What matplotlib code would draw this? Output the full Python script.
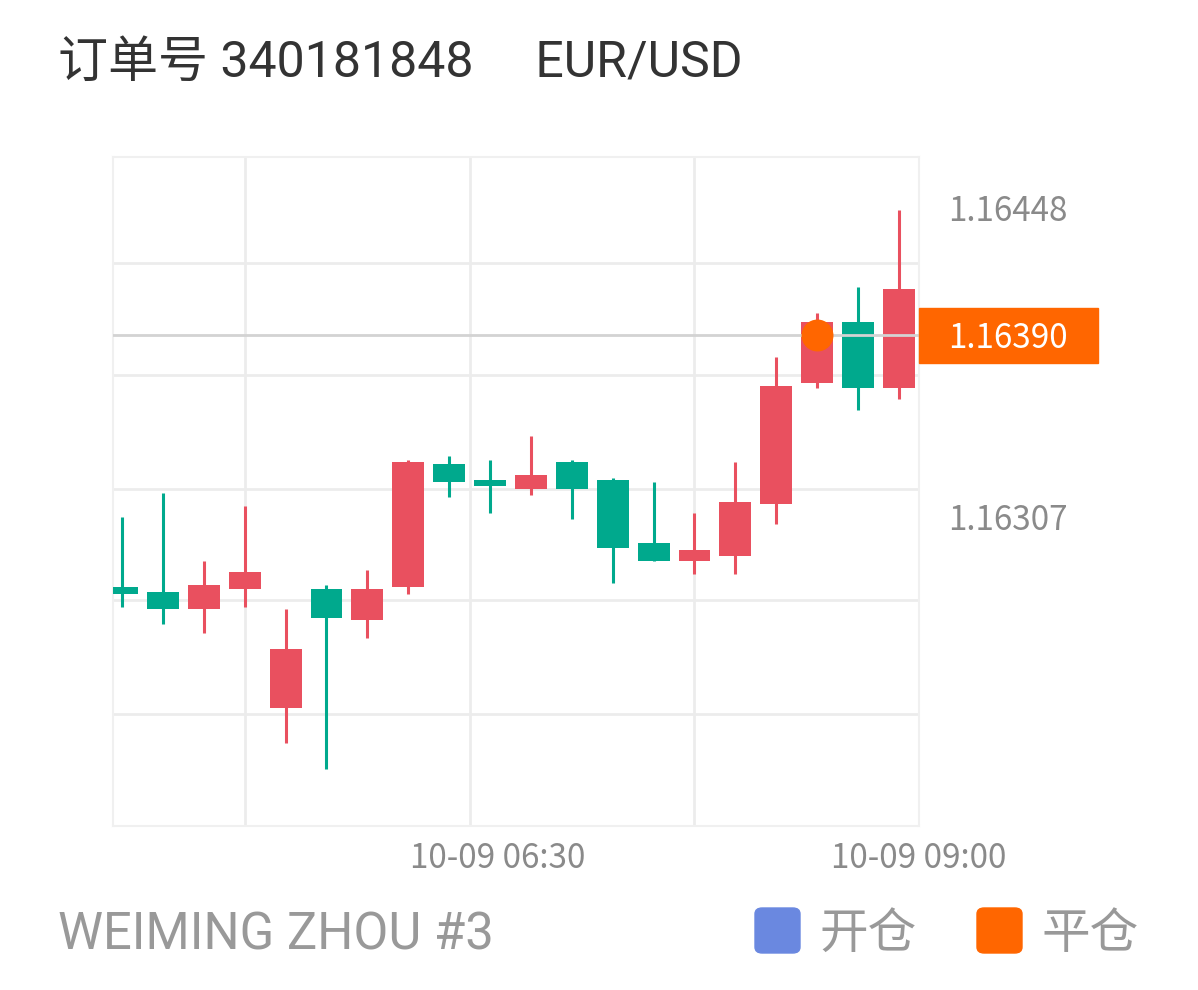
import numpy as np
import matplotlib.pyplot as plt
import matplotlib.transforms as mtransforms
from matplotlib.patches import Rectangle, FancyBboxPatch

# candle data, one entry per bar
opens  = [1.16275, 1.16273, 1.16265, 1.16274, 1.16220, 1.16274, 1.16260, 1.16275, 1.16331, 1.16324,
          1.16320, 1.16332, 1.16324, 1.16295, 1.16287, 1.16289, 1.16313, 1.16368, 1.16396, 1.16366]
highs  = [1.16307, 1.16318, 1.16287, 1.16312, 1.16265, 1.16276, 1.16283, 1.16333, 1.16335, 1.16333,
          1.16344, 1.16333, 1.16325, 1.16323, 1.16309, 1.16332, 1.16380, 1.16400, 1.16412, 1.16447]
lows   = [1.16266, 1.16258, 1.16254, 1.16266, 1.16204, 1.16192, 1.16252, 1.16272, 1.16316, 1.16309,
          1.16317, 1.16306, 1.16277, 1.16287, 1.16281, 1.16281, 1.16304, 1.16366, 1.16356, 1.16361]
closes = [1.16272, 1.16265, 1.16276, 1.16282, 1.16247, 1.16261, 1.16274, 1.16332, 1.16323, 1.16321,
          1.16326, 1.16320, 1.16293, 1.16287, 1.16292, 1.16314, 1.16367, 1.16396, 1.16366, 1.16411]

priceLabels = [1.16448, 1.16307]
closePrice = 1.16390
closeIndex = 17

xtickPos = [9.19, 19.49]
xtickLabels = ["10-09 06:30", "10-09 09:00"]
vgrid = [3, 8.5, 14]
hgrid = [1.16217, 1.16269, 1.16320, 1.16372, 1.16423]

upColor = '#E9505F'
downColor = '#00A98D'
gridColor = '#ececec'

latin = ['Roboto', 'Noto Sans CJK SC']
cjk = ['Noto Sans CJK SC', 'DejaVu Sans']

fig = plt.figure(figsize=(11.98, 9.9), dpi=100)
ax = fig.add_axes([113/1198, 1-826/990, 806/1198, 669/990])

x = np.arange(len(opens))
o = np.array(opens)
c = np.array(closes)
colors = [upColor if cc >= oo else downColor for oo, cc in zip(o, c)]

for g in hgrid:
	ax.axhline(g, color=gridColor, lw=2, zorder=0)
for g in vgrid:
	ax.axvline(g, color=gridColor, lw=2, zorder=0)

ax.vlines(x, lows, highs, colors=colors, lw=2.2, zorder=2)
bodyH = np.maximum(np.abs(c - o), 0.000012)
ax.bar(x, bodyH, bottom=np.minimum(o, c), width=0.78, color=colors, zorder=3)

ax.axhline(closePrice, color='#d3d3d3', lw=2, zorder=4)
ax.plot([closeIndex], [closePrice], 'o', color='#FF6600', ms=23, mec='none', zorder=5)

ax.set_xlim(-0.22, 19.49)
ax.set_ylim(1.16166, 1.164713)
ax.set_xticks([])
ax.set_yticks([])
for s in ax.spines.values():
	s.set_color('#f0f0f0')
	s.set_linewidth(1.5)

blendY = mtransforms.blended_transform_factory(ax.transAxes, ax.transData)
blendX = mtransforms.blended_transform_factory(ax.transData, ax.transAxes)

for p in priceLabels:
	ax.annotate("%.5f" % p, xy=(1.036, p), xycoords=blendY, xytext=(0, -9), textcoords='offset points',
		ha='left', va='baseline', fontsize=24, color='#8a8a8a', family=cjk, annotation_clip=False)

ax.add_patch(Rectangle((1.0, closePrice - 0.000125), 0.222, 0.00025, transform=blendY,
	color='#FF6600', clip_on=False, zorder=6))
ax.annotate("%.5f" % closePrice, xy=(1.036, closePrice), xycoords=blendY, xytext=(0, -9), textcoords='offset points',
	ha='left', va='baseline', fontsize=24, color='white', family=cjk, annotation_clip=False, zorder=7)

for xp, lab in zip(xtickPos, xtickLabels):
	ax.text(xp, -0.063, lab, transform=blendX, ha='center', va='baseline', fontsize=24, color='#8a8a8a', family=cjk)

fig.text(58/1198, 1-77/990, "订单号 340181848     EUR/USD", fontsize=36, color='#333333', family=latin,
	ha='left', va='baseline')
fig.text(58/1198, 1-950/990, "WEIMING ZHOU #3", fontsize=36.5, color='#999999', family=latin,
	ha='left', va='baseline')

# legend squares
legend = [("开仓", '#6A88E0', 755), ("平仓", '#FF6600', 977)]
for lab, col, px in legend:
	fig.patches.append(FancyBboxPatch((px/1198, 1-953/990), 45/1198, 45/990,
		boxstyle="round,pad=0,rounding_size=0.006", color=col, transform=fig.transFigure, figure=fig))
	fig.text((px+64)/1198, 1-934/990, lab, fontsize=35, color='#999999', family=cjk, ha='left', va='center')

fig.savefig('out.png', dpi=100)
